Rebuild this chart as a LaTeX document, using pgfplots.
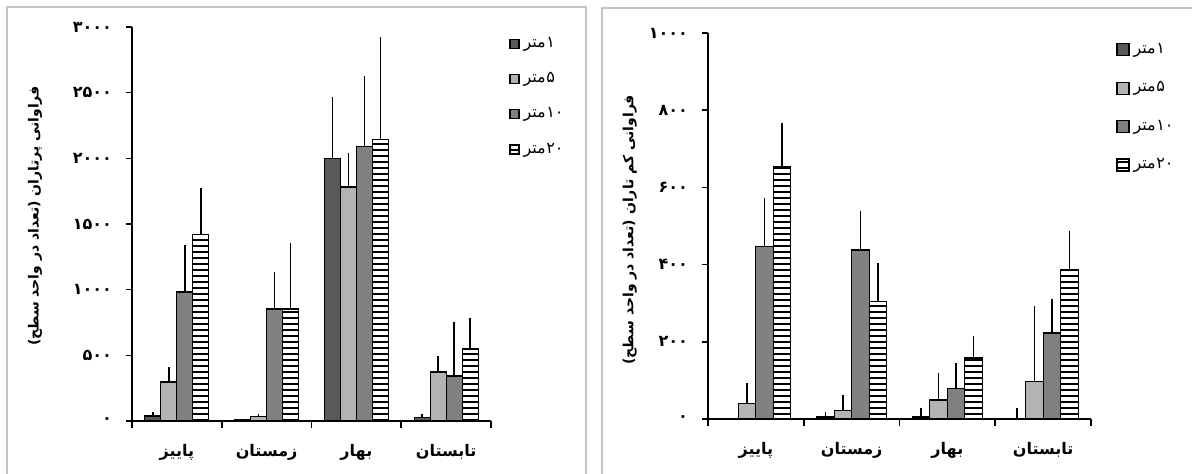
\documentclass[border=0pt]{standalone}
\usepackage{fontspec}
\usepackage{pgfplots}
\pgfplotsset{compat=1.18}
\usetikzlibrary{patterns.meta}
\TeXXeTstate=1
\newfontfamily\fa[Script=Arabic]{DejaVu Sans}
\definecolor{c1}{HTML}{595959}
\definecolor{c5}{HTML}{B3B3B3}
\definecolor{c10}{HTML}{808080}
\definecolor{framegray}{HTML}{C4C4C4}

\pgfplotsset{
  seasons/.style={
    scale only axis,
    ybar=0pt,
    axis x line=bottom, axis y line=left,
    axis line style={-, black, line width=0.8pt},
    xmin=0.5, xmax=4.5, ymin=0,
    xtick={1,2,3,4},
    xticklabels={\beginR پاییز\endR, \beginR زمستان\endR, \beginR بهار\endR, \beginR تابستان\endR},
    major x tick style={draw=none},
    minor xtick={0.5,1.5,2.5,3.5,4.5},
    minor x tick style={black, line width=0.8pt},
    tick align=outside,
    major tick length=3pt, minor tick length=3.5pt,
    y tick style={black, line width=0.8pt},
    xticklabel style={font=\fa\bfseries\footnotesize, yshift=-5pt},
    yticklabel style={font=\fa\bfseries\footnotesize, xshift=-3.5pt},
    every axis plot/.append style={draw=black, line width=0.6pt},
    error bars/y dir=plus, error bars/y explicit,
    error bars/error mark=none,
    error bars/error bar style={black, line width=0.8pt},
    legend style={draw=none, fill=none, inner sep=0pt, font=\fa\footnotesize},
    legend cell align=left,
  }
}

\begin{document}
\begin{tikzpicture}
\useasboundingbox (0,0) rectangle (596pt,237pt);
\draw[framegray, line width=1pt] (3.5pt,-5pt) -- (3.5pt,233.5pt) -- (293pt,233.5pt) -- (293pt,-5pt);
\draw[framegray, line width=1pt] (301pt,-5pt) -- (301pt,233pt) -- (605pt,233pt);

% left: large polychaetes
\begin{axis}[seasons,
  at={(66pt,26.5pt)}, anchor=south west,
  width=179.5pt, height=197pt,
  ymax=3000, ytick={0,500,...,3000},
  yticklabels={۰,۵۰۰,۱۰۰۰,۱۵۰۰,۲۰۰۰,۲۵۰۰,۳۰۰۰},
  bar width=8pt,
  ylabel={\beginR فراوانی پرتاران (تعداد در واحد سطح)\endR},
  every axis y label/.style={at={(axis description cs:-0.27,0.52)}, rotate=90, anchor=center, font=\fa\bfseries\fontsize{7}{8}\selectfont},
  legend style={at={(1.05,0.985)}, anchor=north west, row sep=7pt},
  legend image code/.code={\draw[#1] (0pt,-2.25pt) rectangle (4.5pt,2.25pt);},
]
\addplot[fill=c1] coordinates {(1,38) +- (0,32) (2,10) +- (0,8) (3,2001) +- (0,465) (4,25) +- (0,28)};
\addplot[fill=c5] coordinates {(1,297) +- (0,114) (2,35) +- (0,20) (3,1781) +- (0,259) (4,373) +- (0,122)};
\addplot[fill=c10] coordinates {(1,982) +- (0,358) (2,852) +- (0,282) (3,2093) +- (0,533) (4,342) +- (0,411)};
\addplot[fill=white, postaction={pattern={Lines[angle=0,distance=3pt,line width=0.9pt]}}] coordinates {(1,1423) +- (0,350) (2,852) +- (0,503) (3,2146) +- (0,776) (4,548) +- (0,236)};
\legend{\beginR ۱\kern0.3pt متر\endR, \beginR ۵\kern0.3pt متر\endR, \beginR ۱۰\kern0.3pt متر\endR, \beginR ۲۰\kern0.3pt متر\endR}
\end{axis}

% right: small polychaetes
\begin{axis}[seasons,
  at={(354pt,27.5pt)}, anchor=south west,
  width=191.5pt, height=193pt,
  ymax=1000, ytick={0,200,...,1000},
  yticklabels={۰,۲۰۰,۴۰۰,۶۰۰,۸۰۰,۱۰۰۰},
  bar width=8.75pt,
  ylabel={\beginR فراوانی کم تاران (تعداد در واحد سطح)\endR},
  every axis y label/.style={at={(axis description cs:-0.204,0.49)}, rotate=90, anchor=center, font=\fa\bfseries\fontsize{7}{8}\selectfont},
  legend style={at={(1.065,0.985)}, anchor=north west, row sep=8.6pt},
  legend image code/.code={\draw[#1] (0pt,-3pt) rectangle (6pt,3pt);},
]
\addplot[fill=c1] coordinates {(1,0) +- (0,0) (2,5) +- (0,13) (3,5) +- (0,23) (4,2) +- (0,26)};
\addplot[fill=c5] coordinates {(1,41) +- (0,52) (2,23) +- (0,39) (3,49) +- (0,70) (4,98) +- (0,195)};
\addplot[fill=c10] coordinates {(1,446) +- (0,127) (2,438) +- (0,101) (3,80) +- (0,65) (4,223) +- (0,88)};
\addplot[fill=white, postaction={pattern={Lines[angle=0,distance=3pt,line width=0.9pt]}}] coordinates {(1,653) +- (0,114) (2,305) +- (0,99) (3,158) +- (0,57) (4,386) +- (0,101)};
\legend{\beginR ۱\kern0.3pt متر\endR, \beginR ۵\kern0.3pt متر\endR, \beginR ۱۰\kern0.3pt متر\endR, \beginR ۲۰\kern0.3pt متر\endR}
\end{axis}
\end{tikzpicture}
\end{document}
